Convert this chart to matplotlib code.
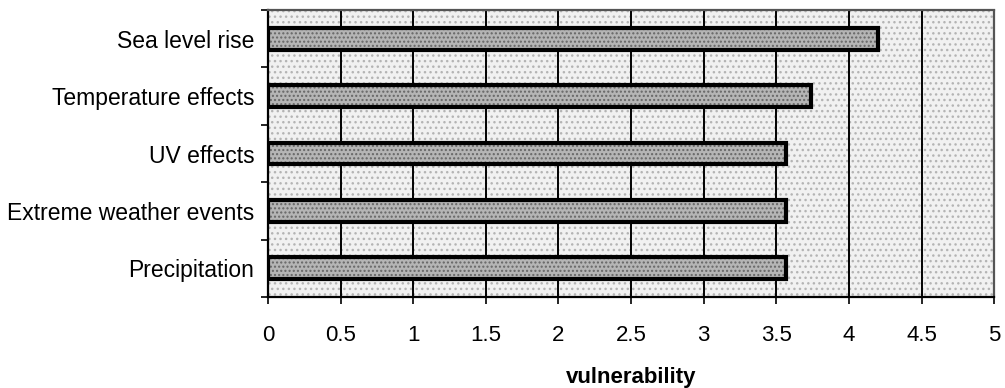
import matplotlib
matplotlib.use("Agg")
import matplotlib.pyplot as plt
from matplotlib.patches import Rectangle
import numpy as np

categories = ["Precipitation", "Extreme weather events", "UV effects",
              "Temperature effects", "Sea level rise"]
values = [3.57, 3.57, 3.57, 3.74, 4.2]
xticks = [0, 0.5, 1, 1.5, 2, 2.5, 3, 3.5, 4, 4.5, 5]
xtick_labels = ["0", "0.5", "1", "1.5", "2", "2.5", "3", "3.5", "4", "4.5", "5"]

plt.rcParams['font.family'] = ['Liberation Sans', 'DejaVu Sans']

fig = plt.figure(figsize=(10.05, 3.88), dpi=100)
ax = fig.add_axes([0.2667, 0.2345, 0.7225, 0.7395])

# stippled plot background
ax.set_facecolor("#f1f1f1")
bg = Rectangle((0, 0), 1, 1, transform=ax.transAxes, facecolor="none",
               edgecolor="#b4b4b4", hatch="...", linewidth=0, zorder=0)
ax.add_patch(bg)

ypos = np.arange(len(categories))
ax.set_xlim(0, 5)
ax.set_ylim(-0.5, len(categories) - 0.5)

for x in xticks[1:-1]:
    ax.axvline(x, color="black", linewidth=1.4, zorder=1)

# bar fill with halftone dots, then heavy black outline
ax.barh(ypos, values, height=0.38, color="#b5b5b5", edgecolor="#666666",
        hatch="....", linewidth=0, zorder=2)
ax.barh(ypos, values, height=0.38, fill=False, edgecolor="black",
        linewidth=3, zorder=3)

ax.set_xticks(xticks)
ax.set_xticklabels(xtick_labels, fontsize=16)
ax.set_yticks(ypos)
ax.set_yticklabels(categories, fontsize=16.5)
ax.set_yticks(np.arange(-0.5, len(categories)), minor=True)
ax.tick_params(axis="y", which="major", length=0, pad=10)
ax.tick_params(axis="y", which="minor", length=5, width=1.2, direction="out")
ax.tick_params(axis="x", which="major", length=5, width=1.2, direction="out", pad=15)

for side in ["left", "bottom"]:
    ax.spines[side].set_linewidth(1.6)
    ax.spines[side].set_color("black")
for side in ["top", "right"]:
    ax.spines[side].set_linewidth(1.6)
    ax.spines[side].set_color("#555555")
    ax.spines[side].set_linestyle((0, (1, 1)))

ax.set_xlabel("vulnerability", fontsize=16, fontweight="bold", labelpad=15)

fig.savefig("out.png", dpi=100)
